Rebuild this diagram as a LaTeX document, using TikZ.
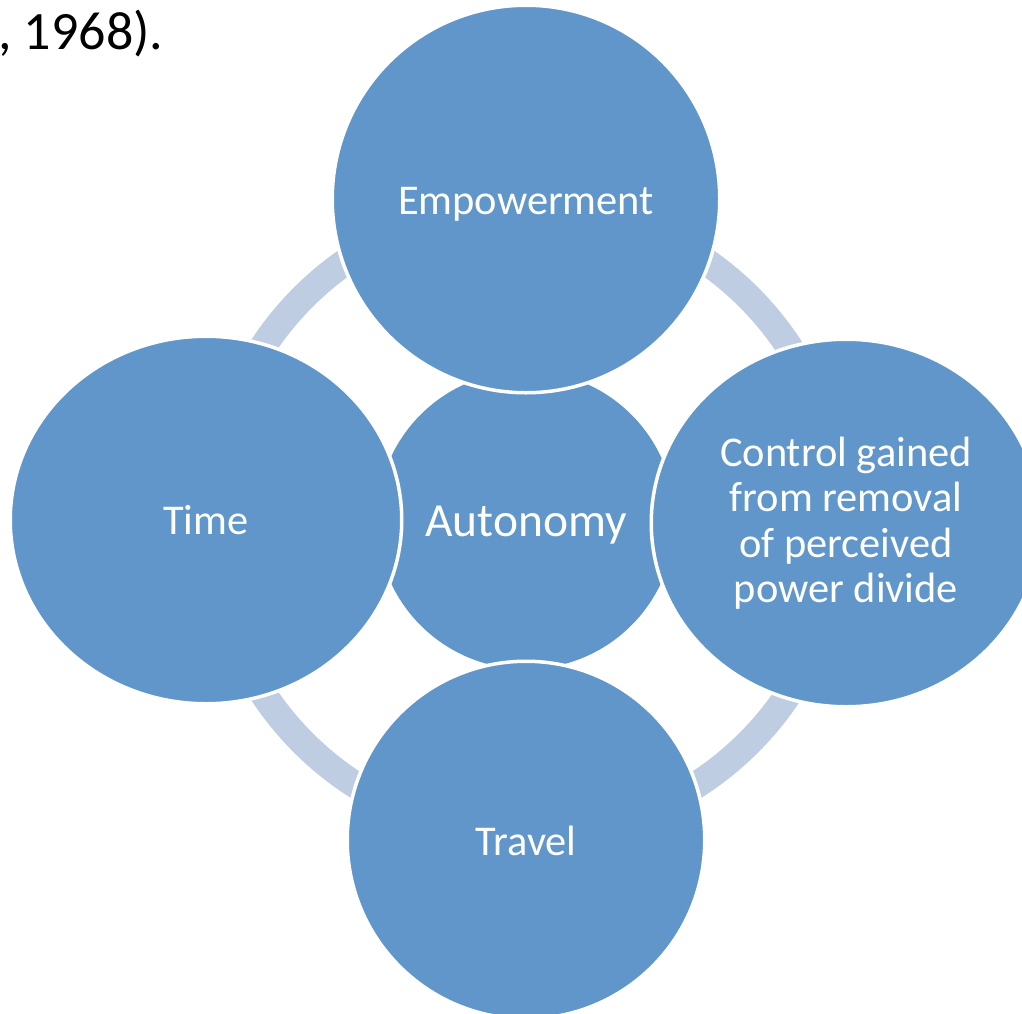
\documentclass[tikz,border=0pt]{standalone}
\usepackage{fontspec}
\usetikzlibrary{shapes.geometric}
\setmainfont{Carlito}
\definecolor{discblue}{HTML}{6096C9}
\definecolor{ringblue}{HTML}{BFCDE3}
% place a label so that its baseline sits #1 below the node centre
\newcommand{\atbase}[2]{\raisebox{-#1}[0pt][0pt]{#2}}
\begin{document}
\begin{tikzpicture}[x=1pt,y=-1pt,
  disc/.style={ellipse, fill=discblue, draw=white, line width=3.5pt,
    inner sep=0pt, text=white, align=center,
    font=\fontsize{42.4}{45.5}\selectfont},
  hub/.style={circle, fill=discblue, minimum size=298pt, inner sep=0pt,
    text=white, font=\fontsize{47.5}{50}\selectfont}]
  \useasboundingbox (0,0) rectangle (1022,1013);
  % fragment of the preceding sentence
  \node[anchor=base west, inner sep=0pt, font=\fontsize{54}{60}\selectfont]
    (cite) at (-2,49) {, 1968).};
  % connecting ring behind the discs
  \coordinate (c) at (526,520);
  \draw[ringblue, line width=27pt] (c) circle[radius=315];
  % centre disc
  \node[hub] (auto) at (c) {\atbase{16pt}{Autonomy}};
  % surrounding discs
  \node[disc, minimum width=387.5pt, minimum height=387.5pt]
    (emp) at (526,199) {\atbase{15pt}{Empowerment}};
  \node[disc, minimum width=391.5pt, minimum height=367.5pt]
    (time) at (206,520) {\atbase{14pt}{Time}};
  \node[disc, minimum width=389.5pt, minimum height=367.5pt, yshift=-3pt]
    (ctrl) at (846,520) {Control gained\\from removal\\of perceived\\power divide};
  \node[disc, minimum width=357.5pt, minimum height=357.5pt]
    (trav) at (526,840) {\atbase{15pt}{Travel}};
\end{tikzpicture}
\end{document}
